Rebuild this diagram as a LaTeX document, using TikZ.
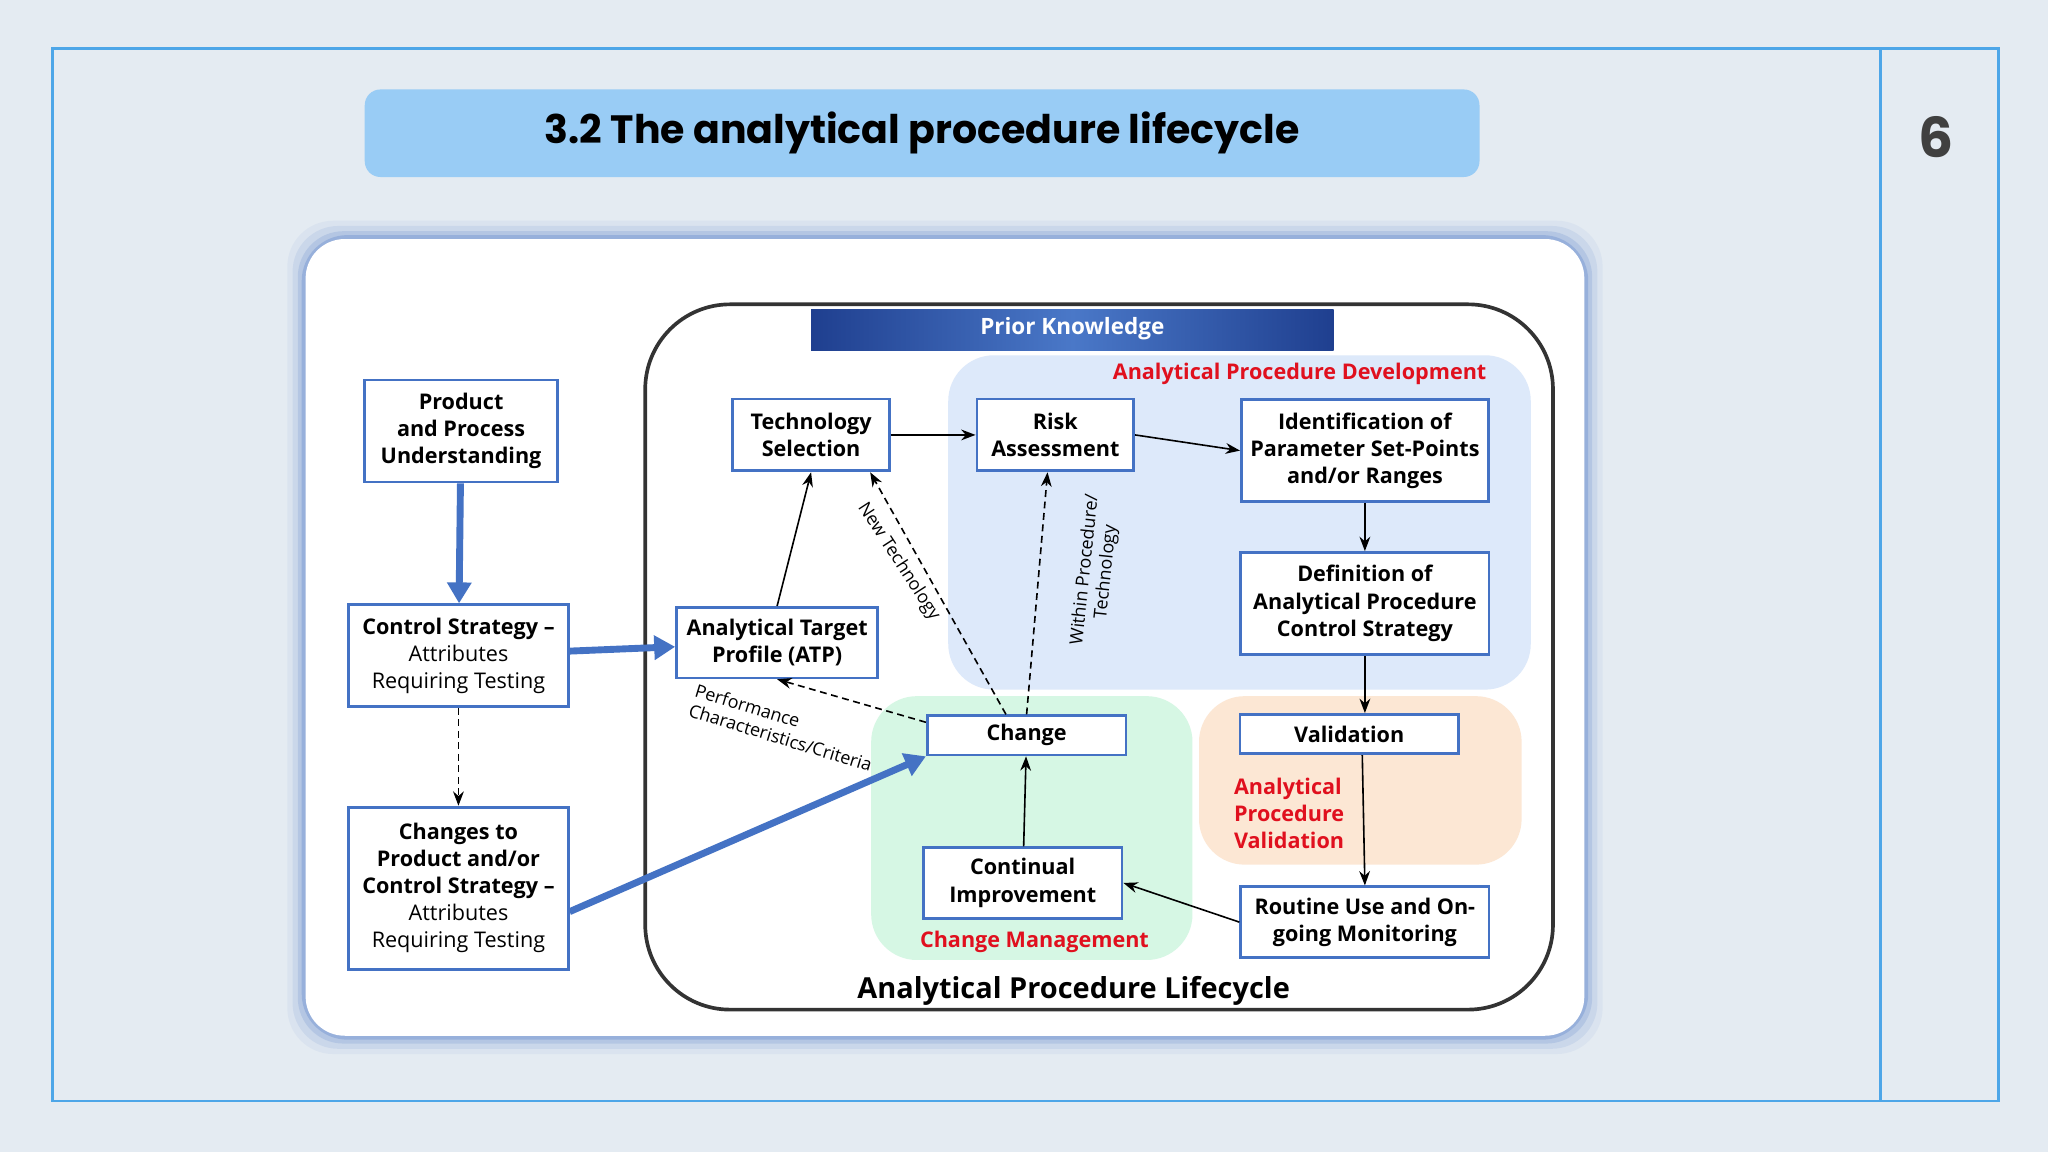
\documentclass[tikz,border=0pt]{standalone}
\usepackage{fontspec}
\setmainfont{Open Sans}
\newfontfamily\titlefont{Poppins}
\usetikzlibrary{arrows.meta, positioning, calc}
\definecolor{pagebg}{HTML}{E4EBF2}
\definecolor{framebl}{HTML}{4DA6E8}
\definecolor{titlebl}{HTML}{99CCF5}
\definecolor{boxbl}{HTML}{4472C4}
\definecolor{devbg}{HTML}{DDE9FA}
\definecolor{chgbg}{HTML}{D6F7E4}
\definecolor{valbg}{HTML}{FCE7D4}
\definecolor{redlab}{HTML}{E0101E}
\definecolor{pkdark}{HTML}{1F3F8F}
\definecolor{pklight}{HTML}{4A78C8}
\begin{document}
\begin{tikzpicture}[
    x=0.01cm, y=-0.01cm,
    stepbox/.style={
        draw=boxbl, rectangle, line width=0.6pt, fill=white, align=center,
        inner sep=1pt, font=\fontsize{4.7}{5.9}\selectfont
    },
    region/.style={rounded corners=0.35cm, draw=none},
    reglabel/.style={font=\fontsize{4.7}{5.9}\selectfont\bfseries, text=redlab, align=left},
    line/.style={draw, -{Stealth[length=1.1mm]}, line width=0.35pt},
    dashline/.style={draw, dashed, dash pattern=on 1.5pt off 1pt, -{Stealth[length=1.1mm]}, line width=0.35pt},
    thickline/.style={draw=boxbl, -{Triangle[length=1.6mm,width=1.8mm]}, line width=1.5pt},
    slant/.style={font=\fontsize{3.9}{4.6}\selectfont, align=center}
]
    \useasboundingbox (0,0) rectangle (1568,882);
    \fill[pagebg] (0,0) rectangle (1568,882);
    % frame and page number
    \draw[framebl, line width=0.6pt] (40,37) rectangle (1530,843);
    \draw[framebl, line width=0.6pt] (1440,37) -- (1440,843);
    \node[font=\titlefont\fontsize{12}{14}\selectfont\bfseries, text=black!75] (page) at (1482,105) {6};
    % title
    \node[fill=titlebl, rounded corners=0.12cm, minimum width=8.53cm, minimum height=0.67cm,
          font=\titlefont\fontsize{8.6}{10}\selectfont\bfseries] (title) at (706,102)
          {3.2 The analytical procedure lifecycle};
    % card with glow
    \foreach \g/\o in {14/0.06, 10/0.10, 6/0.16, 3/0.25}
        \fill[boxbl, opacity=\o, rounded corners=0.35cm] (234-\g,183-\g) rectangle (1213+\g,793+\g);
    \fill[white, rounded corners=0.3cm] (234,183) rectangle (1213,793);
    % lifecycle frame
    \draw[black!80, line width=0.8pt, rounded corners=0.65cm] (494,233) rectangle (1189,773);
    % regions
    \fill[region, devbg] (726,272) rectangle (1172,528);
    \fill[region, chgbg] (667,533) rectangle (913,735);
    \fill[region, valbg] (918,533) rectangle (1165,662);
    \shade[left color=pkdark, right color=pkdark, middle color=pklight] (621,237) rectangle (1021,268);
    \node[font=\fontsize{4.9}{6}\selectfont\bfseries, text=white] (prior) at (821,252) {Prior Knowledge};
    \node[reglabel] (devlab) at (995,286) {Analytical Procedure Development};
    \node[reglabel] (chglab) at (792,721) {Change Management};
    \node[reglabel] (vallab) at (987,623) {Analytical\\Procedure\\Validation};
    \node[font=\fontsize{6.3}{7.5}\selectfont\bfseries] (cyclab) at (822,759) {Analytical Procedure Lifecycle};

    % boxes
    \node[stepbox, minimum width=1.48cm, minimum height=0.78cm] (PPU) at (353,330) {\bfseries Product\\\bfseries and Process\\\bfseries Understanding};
    \node[stepbox, minimum width=1.68cm, minimum height=0.78cm] (CS) at (351,502) {\bfseries Control Strategy --\\Attributes\\Requiring Testing};
    \node[stepbox, minimum width=1.68cm, minimum height=1.24cm] (CPC) at (351,680) {\bfseries Changes to\\\bfseries Product and/or\\\bfseries Control Strategy --\\Attributes\\Requiring Testing};
    \node[stepbox, minimum width=1.2cm, minimum height=0.55cm] (TS) at (621,333) {\bfseries Technology\\\bfseries Selection};
    \node[stepbox, minimum width=1.2cm, minimum height=0.55cm] (RA) at (808,333) {\bfseries Risk\\\bfseries Assessment};
    \node[stepbox, minimum width=1.89cm, minimum height=0.78cm] (ID) at (1045,345) {\bfseries Identification of\\\bfseries Parameter Set-Points\\\bfseries and/or Ranges};
    \node[stepbox, minimum width=1.9cm, minimum height=0.78cm] (Def) at (1045,462) {\bfseries Definition of\\\bfseries Analytical Procedure\\\bfseries Control Strategy};
    \node[stepbox, minimum width=1.54cm, minimum height=0.54cm] (ATP) at (595,492) {\bfseries Analytical Target\\\bfseries Profile (ATP)};
    \node[stepbox, minimum width=1.52cm, minimum height=0.3cm] (Change) at (786,563) {\bfseries Change};
    \node[stepbox, minimum width=1.67cm, minimum height=0.3cm] (Valid) at (1033,562) {\bfseries Validation};
    \node[stepbox, minimum width=1.52cm, minimum height=0.54cm] (CI) at (783,676) {\bfseries Continual\\\bfseries Improvement};
    \node[stepbox, minimum width=1.9cm, minimum height=0.54cm] (RU) at (1045,706) {\bfseries Routine Use and On-\\\bfseries going Monitoring};

    % connectors
    \draw[thickline] (PPU) -- (CS);
    \draw[thickline] (CS) -- (ATP);
    \draw[thickline] (CPC.east) ++(0,18) coordinate (cpcout) (cpcout) -- (Change.south west);
    \draw[dashline] (CS) -- (CPC);
    \draw[line] (ATP.north) -- (TS.south);
    \draw[line] (TS) -- (RA);
    \draw[line] (RA.east) -- (ID.west);
    \draw[line] (ID) -- (Def);
    \draw[line] (Def) -- (Valid.north -| Def);
    \draw[line] (Valid.south -| RU) ++(-2,0) coordinate (vout) (vout) -- (RU.north);
    \draw[line] (RU.west) -- (CI.east);
    \draw[line] (CI) -- (Change);
    \draw[dashline] ([xshift=-4.5pt]Change.north) -- ([xshift=-4.5pt]TS.south east);
    \draw[dashline] (Change.north) -- ([xshift=-1.7pt]RA.south);
    \draw[dashline] (Change.west) ++(0,-10) coordinate (cw) (cw) -- (ATP.south);
    % connector labels
    \node[slant, rotate=-57] (newtech) at (688,430) {New Technology};
    \node[slant, rotate=84] (within) at (839,437) {Within Procedure/\\Technology};
    \node[slant, rotate=-17, align=left] (perf) at (600,557) {Performance\\Characteristics/Criteria};
\end{tikzpicture}
\end{document}
